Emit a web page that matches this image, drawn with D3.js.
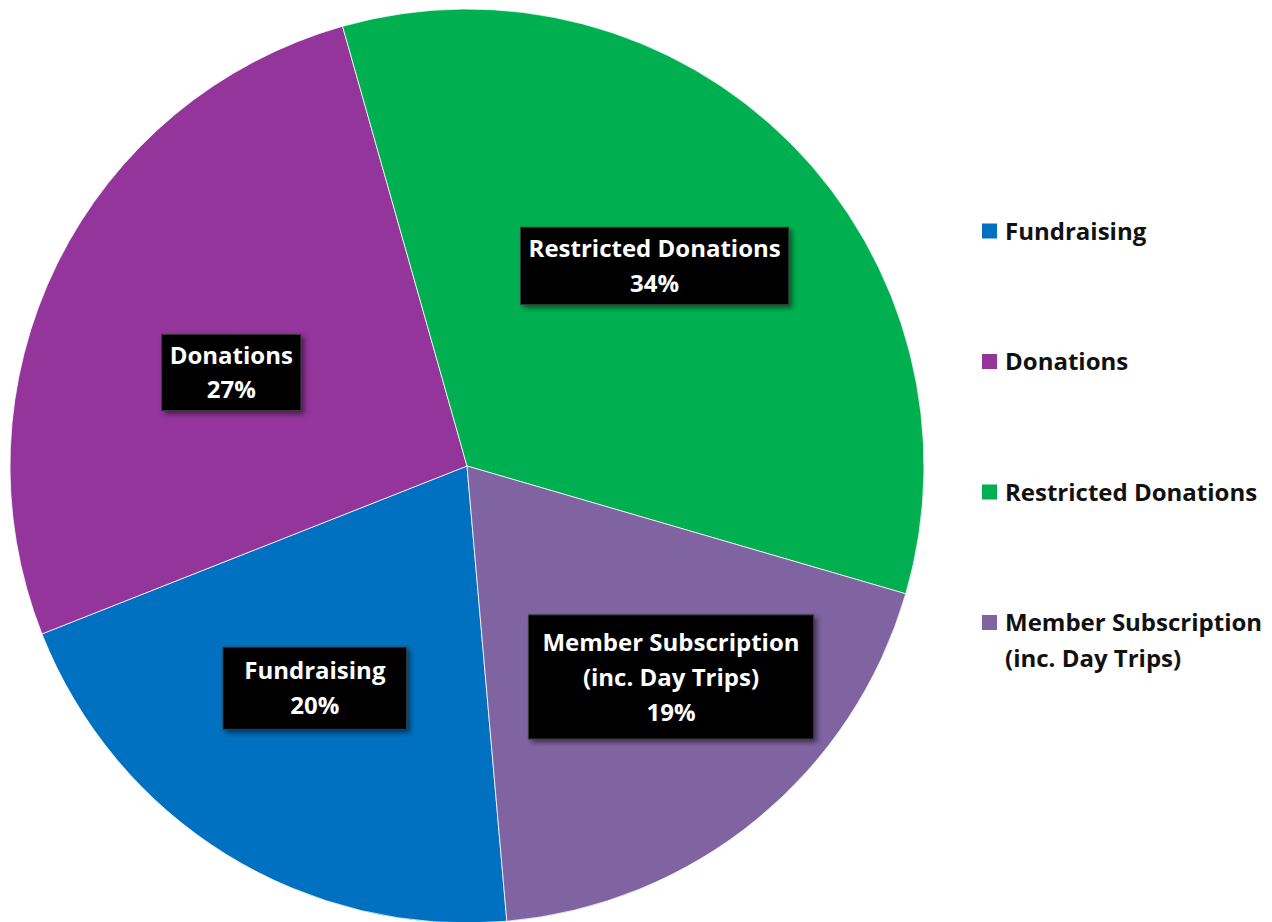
<!DOCTYPE html>
<html>
<head>
<meta charset="utf-8">
<script src="https://cdn.jsdelivr.net/npm/d3@7"></script>
<style>
  body { margin: 0; background: #fff; }
  svg text { font-family: "Open Sans", Lato, sans-serif; font-weight: 700; }
</style>
</head>
<body>
<div id="chart"></div>
<script>
// Data (order = Excel series order, first slice drawn from ~175deg clockwise)
const categories = ["Fundraising", "Donations", "Restricted Donations", "Member Subscription (inc. Day Trips)"];
const labelLines = [["Fundraising"], ["Donations"], ["Restricted Donations"], ["Member Subscription", "(inc. Day Trips)"]];
const shares = [20.4, 26.6, 33.9, 19.1];
const colors = ["#0070C0", "#93359B", "#00B050", "#8064A2"];

// Layout
const width = 1272, height = 922;
const cx = 467, cy = 466, radius = 457;
const firstSliceAngle = 175; // degrees
const fontSize = 24, lineH = 35, capH = fontSize * 0.714;
// label boxes were hand placed in the original, nudge from centroid
const labelNudge = [[-8, -11], [10, 28], [-7, -7], [30, -1]];
const boxPad = [[21, 15], [8, 12], [8, 12.5], [14, 18.5]];

var data = categories.map(function (c, i) {
    return { name: c, lines: labelLines[i], value: shares[i], color: colors[i] };
});

var svg = d3.select("#chart")
    .append("svg")
    .attr("width", width)
    .attr("height", height);

var defs = svg.append("defs");
defs.append("filter")
    .attr("id", "shadow")
    .attr("x", "-20%").attr("y", "-20%")
    .attr("width", "140%").attr("height", "140%")
    .append("feDropShadow")
    .attr("dx", 3).attr("dy", 3)
    .attr("stdDeviation", 2.5)
    .attr("flood-color", "#000")
    .attr("flood-opacity", 0.5);

var start = firstSliceAngle * Math.PI / 180;
var pie = d3.pie()
    .sort(null)
    .value(function (d) { return d.value; })
    .startAngle(start)
    .endAngle(start + 2 * Math.PI);

var arc = d3.arc().innerRadius(0).outerRadius(radius);
var labelArc = d3.arc().innerRadius(radius * 0.6).outerRadius(radius * 0.6);

var g = svg.append("g").attr("transform", "translate(" + cx + "," + cy + ")");
var arcs = pie(data);

g.selectAll(".slice")
    .data(arcs)
    .enter()
    .append("path")
    .attr("class", "slice")
    .attr("d", arc)
    .attr("fill", function (d) { return d.data.color; })
    .attr("stroke", "#fff")
    .attr("stroke-width", 0.75);

// data labels: black boxes with white text
var fmt = function (v) { return Math.round(v) + "%"; };

var labels = g.selectAll(".label")
    .data(arcs)
    .enter()
    .append("g")
    .attr("class", "label")
    .attr("transform", function (d, i) {
        var c = labelArc.centroid(d);
        return "translate(" + (c[0] + labelNudge[i][0]) + "," + (c[1] + labelNudge[i][1]) + ")";
    });

labels.each(function (d, i) {
    var el = d3.select(this);
    var lines = d.data.lines.concat([fmt(d.data.value)]);
    var n = lines.length;
    var rect = el.append("rect");
    var txt = el.append("text")
        .attr("text-anchor", "middle")
        .attr("fill", "#fff")
        .attr("font-size", fontSize);
    lines.forEach(function (l, k) {
        txt.append("tspan")
            .attr("x", 0)
            .attr("y", (k - (n - 1) / 2) * lineH + capH / 2)
            .text(l);
    });
    var w = txt.node().getBBox().width + 2 * boxPad[i][0];
    var h = (n - 1) * lineH + capH + 2 * boxPad[i][1];
    rect.attr("x", -w / 2)
        .attr("y", -h / 2)
        .attr("width", w)
        .attr("height", h)
        .attr("fill", "#000")
        .attr("stroke", "#3a3a3a")
        .attr("stroke-width", 1)
        .attr("filter", "url(#shadow)");
});

// legend
var legendY = d3.scalePoint()
    .domain(categories)
    .range([231, 622.5]);

var legend = svg.selectAll(".legend")
    .data(data)
    .enter()
    .append("g")
    .attr("class", "legend")
    .attr("transform", function (d) { return "translate(982," + legendY(d.name) + ")"; });

legend.append("rect")
    .attr("x", 0)
    .attr("y", -7.5)
    .attr("width", 15)
    .attr("height", 15)
    .attr("fill", function (d) { return d.color; });

legend.append("text")
    .attr("font-size", fontSize)
    .attr("fill", "#111")
    .each(function (d) {
        var t = d3.select(this);
        d.lines.forEach(function (l, k) {
            t.append("tspan")
                .attr("x", 23)
                .attr("y", k * 36 + capH / 2)
                .text(l);
        });
    });
</script>
</body>
</html>
